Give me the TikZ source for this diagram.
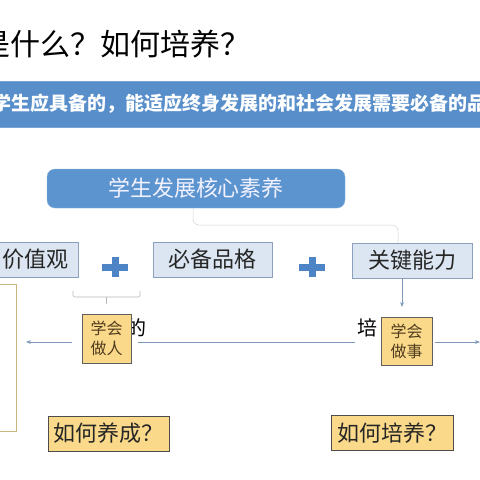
\documentclass[tikz,border=0pt]{standalone}
\usepackage{fontspec}
\newfontfamily\cjk{Noto Sans CJK SC}
\usetikzlibrary{arrows.meta, positioning}
\definecolor{bannerblue}{RGB}{88,143,203}
\definecolor{topblue}{RGB}{92,148,208}
\definecolor{boxfill}{RGB}{220,230,242}
\definecolor{boxline}{RGB}{140,160,190}
\definecolor{gold1}{RGB}{250,217,138}
\definecolor{goldline}{RGB}{200,182,128}
\definecolor{plusblue}{RGB}{76,132,198}
\definecolor{linegray}{RGB}{125,152,185}
\definecolor{brown1}{RGB}{80,60,30}

\tikzset{
  quality/.style={draw=boxline, fill=boxfill, minimum height=35pt, inner sep=0pt,
    font=\cjk\fontsize{22}{22}\selectfont, text=black!85},
  learnbox/.style={draw=gray!75!black, fill=gold1, inner sep=0pt, align=center,
    font=\cjk\fontsize{16}{20}\selectfont, text=brown1},
  askbox/.style={draw=gray!60!black, fill=gold1, minimum height=35pt, inner sep=0pt,
    font=\cjk\fontsize{22}{22}\selectfont, text=black!85},
  flow/.style={draw=linegray, line width=0.6pt},
  plusbar/.style={draw=plusblue, line width=7pt}
}

\begin{document}
\begin{tikzpicture}[x=1pt, y=-1pt]
  \useasboundingbox (0,0) rectangle (480,480);
  \clip (0,0) rectangle (480,480);

  % title and banner
  \node[anchor=west, inner sep=0pt, font=\cjk\fontsize{30}{30}\selectfont] (title) at (-20,44) {是什么？如何培养？};
  \node[fill=bannerblue, draw=bannerblue!80!white, minimum width=490pt, minimum height=46pt, inner sep=0pt] (banner) at (240,104) {};
  \node[anchor=west, inner sep=0pt, text=white, font=\cjk\bfseries\fontsize{19}{19}\selectfont] (bannertext) at (-8,104)
    {学生应具备的，能适应终身发展的和社会发展需要必备的品};

  % core box
  \node[fill=topblue, draw=topblue!70!white, rounded corners=8pt, minimum width=298pt, minimum height=39pt, inner sep=0pt,
    text=white!95!blue, font=\cjk\fontsize{22}{22}\selectfont] (core) at (196,188.5) {学生发展核心素养};

  % three parts
  \node[quality, minimum width=98pt] (values) at (29,259.5) {};
  \node[anchor=east, inner sep=0pt, font=\cjk\fontsize{22}{22}\selectfont, text=black!85] (valuestext) at (69,259.5) {价值观};
  \node[quality, minimum width=119pt] (character) at (212.5,259.5) {必备品格};
  \node[quality, minimum width=120pt] (ability) at (412,260.5) {关键能力};

  \draw[plusbar] (102,267) -- (128,267) (115,257) -- (115,277);
  \draw[plusbar] (299,267) -- (325,267) (312,257) -- (312,277);

  \coordinate (kdown) at (402,307);
  \draw[gray!35, line width=0.5pt, rounded corners=6pt] (core.south -| 193,0) -- (193,225) -- (398,225) -- (ability.north -| 398,0);
  \draw[flow, -{Stealth[length=5pt]}] (ability.south -| kdown) -- (kdown);

  % bracket
  \draw[gray!55, line width=0.6pt, rounded corners=2pt] (73,291) -- (73,297) -- (140,297) -- (140,291);
  \draw[gray!55, line width=0.6pt] (106,297) -- (106,304);

  % left tall box
  \node[draw=goldline, fill=white, line width=1pt, minimum width=76pt, minimum height=147pt] (leftbox) at (-22,357.5) {};

  % texts beside the small boxes
  \node[anchor=east, inner sep=0pt, font=\cjk\fontsize{20}{20}\selectfont] (dechar) at (147,328) {的};
  \node[anchor=west, inner sep=0pt, font=\cjk\fontsize{20}{20}\selectfont] (peichar) at (357,328) {培};

  \node[learnbox, minimum width=49pt, minimum height=49pt] (person) at (106.5,338.5) {学会\\做人};
  \node[learnbox, minimum width=51pt, minimum height=48pt] (work) at (406.5,341) {学会\\做事};

  % horizontal flow
  \coordinate (leftend) at (26,342);
  \coordinate (lineA) at (138,342);
  \coordinate (lineB) at (355,342);
  \coordinate (rightend) at (480,342);
  \draw[flow, -{Stealth[length=5pt]}] ([xshift=-10pt]person.west |- leftend) -- (leftend);
  \draw[flow] (lineA) -- (lineB);
  \draw[flow, -{Stealth[length=5pt]}] ([xshift=3pt]work.east |- rightend) -- (rightend);

  % questions
  \node[askbox, minimum width=121pt] (howform) at (108.5,433.5) {如何养成？};
  \node[askbox, minimum width=122pt] (howtrain) at (392,433) {如何培养？};
\end{tikzpicture}
\end{document}
